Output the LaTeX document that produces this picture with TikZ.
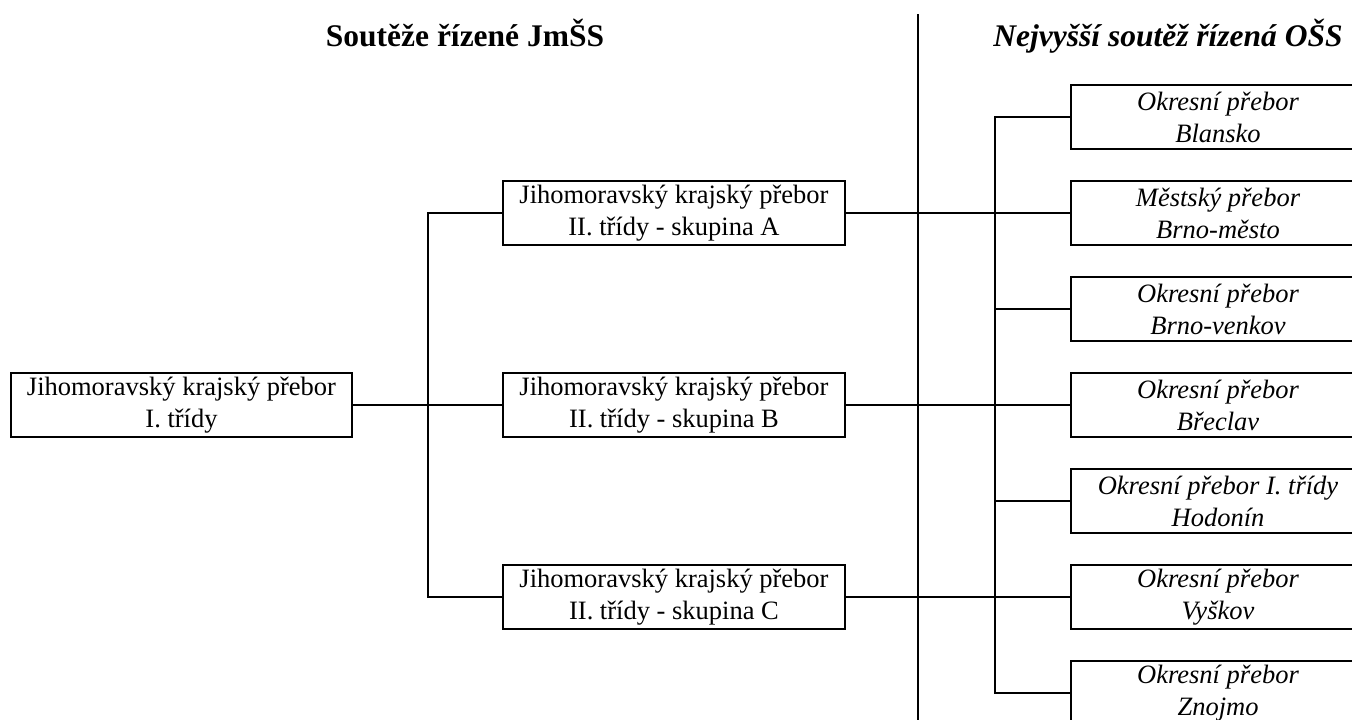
\documentclass[tikz,border=0pt]{standalone}
\usepackage{fontspec}
\setmainfont{Liberation Serif}
\begin{document}
\begin{tikzpicture}[x=1pt,y=-1pt,
  line/.style={line width=2pt},
  box/.style={draw,line width=2pt,rectangle,minimum height=64pt,inner sep=0pt,align=center,
     font=\fontsize{26.5}{32}\selectfont},
  midbox/.style={box,minimum width=342pt},
  rbox/.style={box,minimum width=294pt,font=\fontsize{26.5}{32}\selectfont\itshape},
  title/.style={anchor=base,inner sep=0pt,font=\fontsize{31.5}{36}\selectfont\bfseries}]
\useasboundingbox (0,0) rectangle (1352,720);
\clip (0,0) rectangle (1352,720);
\node[title] (t1) at (465,46) {Soutěže řízené JmŠS};
\node[title,font=\fontsize{31.5}{36}\selectfont\bfseries\itshape] (t2) at (1168,46) {Nejvyšší soutěž řízená OŠS};
\node[box,minimum width=341pt] (L) at (181.5,405) {Jihomoravský krajský přebor\\I. třídy};
\node[midbox] (A) at (674,213) {Jihomoravský krajský přebor\\II. třídy - skupina A};
\node[midbox] (B) at (674,405) {Jihomoravský krajský přebor\\II. třídy - skupina B};
\node[midbox] (C) at (674,597) {Jihomoravský krajský přebor\\II. třídy - skupina C};
\node[rbox] (R1) at (1218,117) {Okresní přebor\\Blansko};
\node[rbox] (R2) at (1218,213) {Městský přebor\\Brno-město};
\node[rbox] (R3) at (1218,309) {Okresní přebor\\Brno-venkov};
\node[rbox] (R4) at (1218,405) {Okresní přebor\\Břeclav};
\node[rbox] (R5) at (1218,501) {Okresní přebor I. třídy\\Hodonín};
\node[rbox] (R6) at (1218,597) {Okresní přebor\\Vyškov};
\node[rbox] (R7) at (1218,693) {Okresní přebor\\Znojmo};
\coordinate (bus1) at (428,0);
\coordinate (bus2) at (995,0);
\coordinate (dtop) at (918,14);
\coordinate (dbot) at (918,730);
\draw[line] (dtop) -- (dbot);
\draw[line] (L.east) -- (B.west);
\draw[line] (A.west) -- (A.west -| bus1) |- (C.west);
\draw[line] (A.east) -- (R2.west);
\draw[line] (B.east) -- (R4.west);
\draw[line] (C.east) -- (R6.west);
\draw[line] (R1.west) -- (R1.west -| bus2) |- (R7.west);
\draw[line] (R3.west) -- (R3.west -| bus2);
\draw[line] (R5.west) -- (R5.west -| bus2);
\end{tikzpicture}
\end{document}
